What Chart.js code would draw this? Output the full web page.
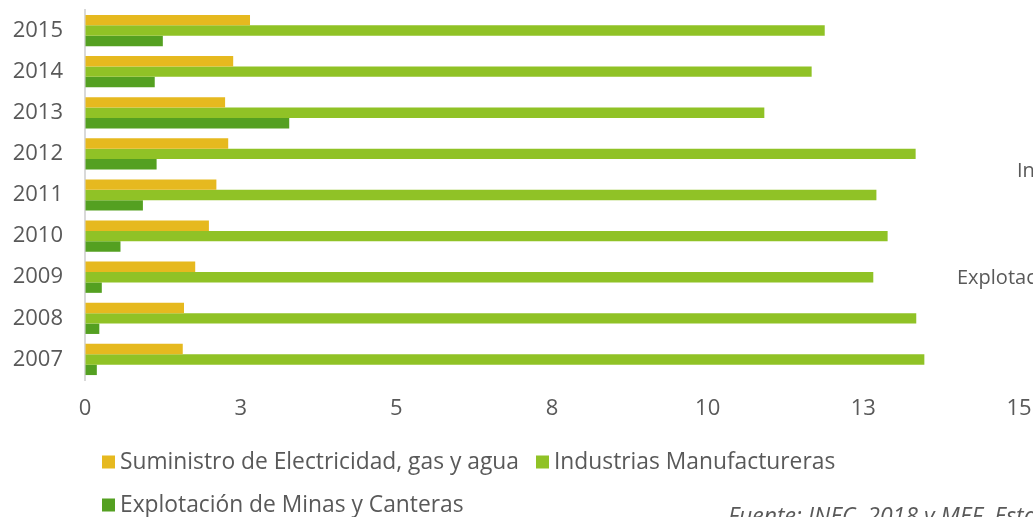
<!DOCTYPE html>
<html lang="es">
<head>
    <meta charset="UTF-8">
    <title>Sectores por año</title>
    <style>
        html, body {
            margin: 0;
            padding: 0;
            background: #ffffff;
        }
        #wrap {
            width: 1033px;
            height: 517px;
            position: relative;
        }
    </style>
    <script src="https://cdn.jsdelivr.net/npm/chart.js"></script>
</head>
<body>
    <div id="wrap">
        <canvas id="sectorChart"></canvas>
    </div>

    <script>
        // Years, top to bottom as in the picture
        const years = ['2015', '2014', '2013', '2012', '2011', '2010', '2009', '2008', '2007'];

        // Series values
        const suministro = [2.65, 2.38, 2.25, 2.30, 2.11, 1.99, 1.77, 1.59, 1.57];
        const industrias = [11.88, 11.67, 10.91, 13.34, 12.71, 12.89, 12.66, 13.35, 13.48];
        const explotacion = [1.25, 1.12, 3.28, 1.15, 0.93, 0.57, 0.27, 0.23, 0.19];

        const seriesNames = [
            'Suministro de Electricidad, gas y agua',
            'Industrias Manufactureras',
            'Explotación de Minas y Canteras'
        ];
        const seriesColors = ['#E6B91F', '#90C226', '#54A021'];

        const FONT = '"Open Sans", "Noto Sans", sans-serif';
        const TEXT_COLOR = '#595959';

        // draws the legend, the cut-off side labels and the source note
        const extrasPlugin = {
            id: 'extras',
            afterDraw(chart) {
                const ctx = chart.ctx;
                ctx.save();
                ctx.font = '22.8px ' + FONT;
                ctx.fillStyle = TEXT_COLOR;
                ctx.textBaseline = 'middle';
                ctx.textAlign = 'left';

                // legend
                const items = [
                    { x: 102, y: 462, i: 0 },
                    { x: 536, y: 462, i: 1 },
                    { x: 102, y: 505, i: 2 }
                ];
                items.forEach(it => {
                    ctx.fillStyle = seriesColors[it.i];
                    ctx.fillRect(it.x, it.y - 6.5, 13, 13);
                    ctx.fillStyle = TEXT_COLOR;
                    ctx.fillText(seriesNames[it.i], it.x + 18, it.y + 1);
                });

                // labels that run off the right edge
                ctx.font = '20px ' + FONT;
                ctx.fillText(seriesNames[1], 1017, 171);
                ctx.fillText(seriesNames[2], 957, 278);

                // source note, cut by the bottom edge
                ctx.font = 'italic 23px ' + FONT;
                ctx.textBaseline = 'alphabetic';
                ctx.fillText('Fuente: INEC, 2018 y MEF, Estadísticas', 728, 524);
                ctx.restore();
            }
        };

        const ctx = document.getElementById('sectorChart').getContext('2d');
        const sectorChart = new Chart(ctx, {
            type: 'bar',
            data: {
                labels: years,
                datasets: [
                    { label: seriesNames[0], data: suministro, backgroundColor: seriesColors[0] },
                    { label: seriesNames[1], data: industrias, backgroundColor: seriesColors[1] },
                    { label: seriesNames[2], data: explotacion, backgroundColor: seriesColors[2] }
                ]
            },
            options: {
                indexAxis: 'y',
                responsive: true,
                maintainAspectRatio: false,
                animation: false,
                layout: {
                    padding: { top: 10, right: 14, bottom: 0, left: 0 }
                },
                datasets: {
                    bar: {
                        categoryPercentage: 0.76,
                        barPercentage: 1.0,
                        borderWidth: 0
                    }
                },
                plugins: {
                    legend: { display: false },
                    tooltip: { enabled: false }
                },
                scales: {
                    x: {
                        min: 0,
                        max: 15,
                        afterFit: scale => {
                            scale.height = 137;
                            scale.paddingLeft = 0;
                            scale.paddingRight = 0;
                        },
                        grid: { color: 'transparent', drawTicks: false },
                        border: { display: false },
                        ticks: {
                            stepSize: 2.5,
                            padding: 16,
                            color: TEXT_COLOR,
                            font: { family: FONT, size: 22 },
                            maxRotation: 0,
                            callback: value => Math.round(value)
                        }
                    },
                    y: {
                        afterFit: scale => {
                            scale.width = 85;
                            scale.paddingTop = 0;
                            scale.paddingBottom = 0;
                        },
                        grid: { color: 'transparent', drawTicks: false },
                        border: { display: true, color: '#D9D9D9', width: 2 },
                        ticks: {
                            padding: 22,
                            color: TEXT_COLOR,
                            font: { family: FONT, size: 22 }
                        }
                    }
                }
            },
            plugins: [extrasPlugin]
        });
    </script>
</body>
</html>
